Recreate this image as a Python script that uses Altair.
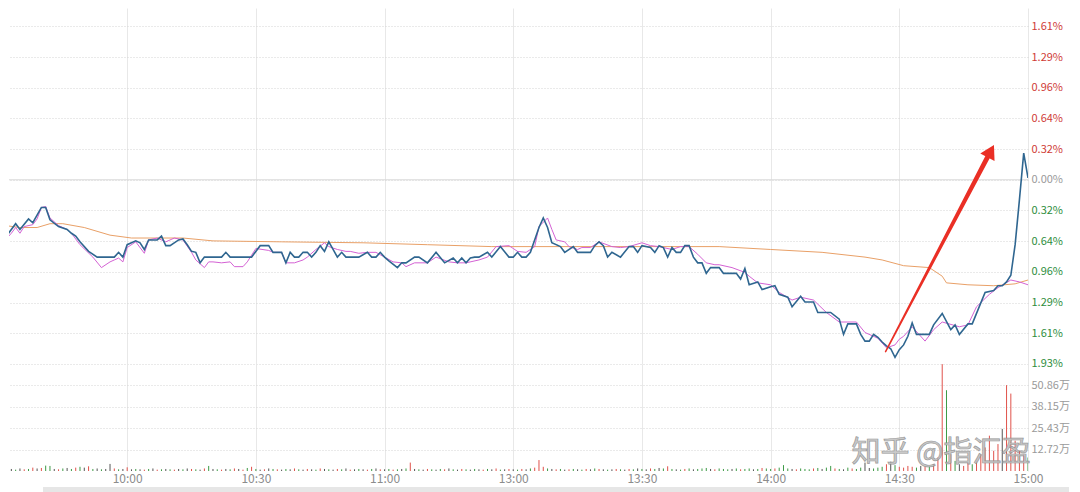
import altair as alt
import pandas as pd

FONT = "Noto Sans CJK SC"
RED = "#cf3b36"
GREEN = "#2e8d3c"
GRAY = "#9a9a9a"

# ---- price line (minutes from 09:30, % change) ----
price_t = [0, 2, 4, 5, 7, 8, 10, 11, 12, 14, 16, 17, 18, 19, 21, 23, 27, 28, 29, 30,
           32, 33, 34, 35, 37, 38, 39, 40, 42, 43, 44, 45, 46, 47, 48, 52, 53, 54, 59, 61,
           63, 64, 66, 67, 68, 69, 70, 71, 72, 73, 74, 75, 76, 77, 78, 79, 80, 81, 84, 86,
           87, 88, 89, 90, 91, 93, 94, 95, 97, 98, 100, 102, 104, 106, 107, 108, 109, 110, 111, 112,
           114, 115, 117, 119, 120, 121, 122, 123, 124, 126, 127, 128, 129, 131, 132, 134, 135, 138, 139, 140,
           141, 142, 143, 145, 147, 148, 149, 150, 152, 153, 154, 155, 156, 157, 158, 159, 160, 161, 162, 163,
           164, 165, 166, 168, 169, 172, 173, 174, 175, 177, 178, 180, 181, 182, 184, 185, 187, 188, 190, 191,
           194, 196, 197, 198, 200, 201, 202, 203, 204, 205, 206, 207, 208, 209, 210, 211, 212, 213, 214, 217,
           218, 220, 222, 223, 224, 226, 227, 229, 230, 232, 233, 234, 235, 236, 237, 238, 239, 240]
price_v = [-0.58, -0.58, -0.46, -0.52, -0.41, -0.45, -0.29, -0.29, -0.42, -0.49, -0.52, -0.56, -0.59, -0.65, -0.75, -0.81, -0.81, -0.76, -0.81, -0.68,
           -0.64, -0.66, -0.73, -0.63, -0.63, -0.59, -0.69, -0.69, -0.63, -0.62, -0.68, -0.75, -0.76, -0.87, -0.81, -0.81, -0.76, -0.81, -0.81, -0.69,
           -0.69, -0.76, -0.76, -0.87, -0.76, -0.81, -0.81, -0.76, -0.76, -0.81, -0.76, -0.69, -0.75, -0.65, -0.73, -0.81, -0.76, -0.81, -0.81, -0.76,
           -0.81, -0.81, -0.76, -0.81, -0.85, -0.92, -0.87, -0.87, -0.81, -0.81, -0.87, -0.76, -0.87, -0.82, -0.87, -0.82, -0.87, -0.82, -0.81, -0.81,
           -0.76, -0.81, -0.70, -0.81, -0.81, -0.76, -0.81, -0.81, -0.76, -0.50, -0.40, -0.50, -0.66, -0.70, -0.76, -0.70, -0.76, -0.76, -0.69, -0.65,
           -0.69, -0.81, -0.76, -0.81, -0.70, -0.70, -0.76, -0.69, -0.71, -0.76, -0.69, -0.71, -0.81, -0.71, -0.76, -0.76, -0.69, -0.69, -0.81, -0.87,
           -0.87, -0.98, -0.92, -0.92, -0.98, -0.98, -1.04, -0.93, -1.10, -1.07, -1.15, -1.12, -1.11, -1.20, -1.23, -1.33, -1.22, -1.28, -1.28, -1.39,
           -1.39, -1.46, -1.62, -1.51, -1.51, -1.62, -1.69, -1.69, -1.62, -1.65, -1.70, -1.74, -1.77, -1.86, -1.78, -1.73, -1.64, -1.50, -1.62, -1.62,
           -1.52, -1.40, -1.57, -1.52, -1.62, -1.51, -1.51, -1.29, -1.18, -1.16, -1.11, -1.11, -1.07, -1.00, -0.68, -0.21, 0.28, 0.02]

# ---- moving-average line (magenta) ----
ma_t = [0, 2, 3, 4, 5, 6, 8, 9, 10, 11, 12, 14, 16, 17, 19, 22, 24, 26, 27, 28,
        29, 30, 32, 34, 35, 37, 39, 41, 43, 45, 46, 48, 49, 50, 52, 54, 55, 57, 58, 60,
        63, 64, 66, 67, 69, 71, 72, 74, 76, 77, 79, 81, 82, 84, 86, 88, 90, 92, 94, 95,
        97, 100, 102, 105, 107, 109, 112, 114, 116, 119, 121, 123, 125, 126, 128, 129, 130, 132, 133, 135,
        136, 138, 140, 143, 145, 147, 150, 152, 154, 157, 159, 161, 163, 165, 167, 168, 171, 174, 175, 177,
        180, 182, 185, 187, 190, 193, 196, 198, 200, 202, 205, 207, 209, 210, 211, 213, 216, 218, 220, 224,
        226, 228, 231, 233, 236, 238, 240]
ma_v = [-0.68, -0.61, -0.56, -0.50, -0.56, -0.49, -0.47, -0.41, -0.29, -0.28, -0.40, -0.48, -0.52, -0.56, -0.68, -0.81, -0.92, -0.86, -0.84, -0.82,
        -0.86, -0.71, -0.65, -0.77, -0.63, -0.61, -0.65, -0.61, -0.63, -0.76, -0.84, -0.92, -0.86, -0.86, -0.87, -0.86, -0.91, -0.91, -0.86, -0.72,
        -0.74, -0.76, -0.76, -0.87, -0.87, -0.84, -0.81, -0.73, -0.66, -0.70, -0.73, -0.75, -0.75, -0.77, -0.76, -0.76, -0.81, -0.86, -0.87, -0.91,
        -0.87, -0.87, -0.81, -0.86, -0.87, -0.87, -0.84, -0.81, -0.70, -0.69, -0.75, -0.76, -0.70, -0.49, -0.40, -0.52, -0.63, -0.65, -0.70, -0.73,
        -0.71, -0.71, -0.65, -0.70, -0.71, -0.70, -0.66, -0.69, -0.70, -0.73, -0.70, -0.70, -0.78, -0.87, -0.89, -0.89, -0.92, -0.97, -1.01, -1.08,
        -1.10, -1.18, -1.26, -1.23, -1.26, -1.39, -1.49, -1.49, -1.49, -1.60, -1.66, -1.76, -1.73, -1.67, -1.64, -1.54, -1.69, -1.57, -1.49, -1.54,
        -1.52, -1.33, -1.20, -1.13, -1.05, -1.07, -1.10]

# ---- average price line (orange) ----
avg_t = [0, 5, 9, 12, 15, 20, 26, 31, 43, 50, 66, 85, 100, 115, 126, 164, 168, 180, 192, 202,
         206, 211, 217, 220, 221, 226, 232, 237, 240]
avg_v = [-0.47, -0.50, -0.50, -0.46, -0.46, -0.50, -0.58, -0.61, -0.61, -0.64, -0.65, -0.66, -0.68, -0.70, -0.70, -0.70, -0.70, -0.73, -0.76, -0.81,
         -0.84, -0.90, -0.92, -1.01, -1.08, -1.10, -1.11, -1.09, -1.05]

# ---- volume per minute (万股) and direction (r up / g down / k flat) ----
vol = [
    4.0, 1.5, 1.0, 1.2, 0.8, 1.5, 1.0, 1.2, 2.0, 1.5, 1.8, 3.2, 3.0, 1.2, 1.0, 1.5, 1.8, 1.2, 2.0, 2.5, 2.0, 2.8, 1.2, 1.5, 1.0, 1.2, 4.2, 1.5, 1.0, 1.2,
    2.2, 1.0, 1.2, 1.0, 0.8, 1.2, 1.5, 0.8, 1.0, 1.2, 1.0, 0.8, 1.2, 1.0, 1.5, 1.2, 1.0, 0.8, 1.5, 3.0, 1.2, 1.0, 0.8, 1.2, 1.0, 1.5, 1.2, 0.8, 1.8, 2.5,
    1.2, 0.8, 1.0, 1.5, 1.2, 1.0, 0.8, 1.2, 1.0, 1.5, 1.0, 0.8, 1.2, 1.0, 0.8, 1.5, 1.2, 1.0, 0.8, 1.2, 1.0, 1.5, 0.8, 1.0, 1.2, 1.0, 0.8, 1.2, 1.5, 1.0,
    1.0, 1.2, 0.8, 1.0, 1.2, 1.5, 5.0, 1.2, 1.0, 0.8, 1.2, 1.0, 0.8, 1.2, 1.0, 1.5, 1.0, 0.8, 1.2, 1.0, 0.8, 1.2, 1.0, 0.8, 1.2, 1.0, 1.5, 0.8, 1.0, 1.2,
    1.0, 0.8, 1.2, 1.0, 1.5, 2.0, 6.5, 2.5, 1.5, 1.2, 1.0, 1.2, 0.8, 1.0, 1.2, 1.0, 0.8, 1.2, 1.0, 1.5, 1.2, 1.0, 0.8, 1.0, 1.2, 1.0, 0.8, 1.2, 1.0, 1.5,
    1.2, 1.0, 1.5, 1.2, 1.8, 1.5, 2.8, 1.2, 1.0, 0.8, 1.2, 1.5, 1.0, 1.2, 1.5, 1.8, 1.2, 1.0, 1.5, 1.2, 1.0, 1.2, 1.5, 1.0, 1.2, 1.5, 1.0, 1.2, 1.8, 1.5,
    1.2, 1.5, 2.0, 3.5, 1.5, 1.2, 1.0, 1.5, 1.2, 1.0, 1.5, 1.8, 1.2, 2.0, 3.0, 1.5, 1.2, 1.0, 2.0, 1.5, 1.2, 2.0, 5.0, 1.8, 1.5, 2.0, 2.5, 4.0, 5.5, 3.5,
    2.5, 2.0, 3.0, 2.5, 2.0, 3.0, 2.5, 3.0, 4.0, 8.0, 63.5, 48.0, 10.0, 6.0, 4.0, 3.0, 5.0, 4.0, 6.0, 10.0, 14.0, 21.0, 12.0, 16.0, 25.0, 51.0, 46.0, 18.0, 12.0, 10.0,
    8.0,
]
vol_dir = ("krgkgkrgrkrggkrgkgrgkrgkgkkrgk"
           "rkgkrgkrgkgrkgkrgkrgkgrkgrkrgr"
           "gkrkgrkgkrgkrkgrkgkrgkrkgkrgkr"
           "kgrgkgrkgkrgkgrkgkrgkgkrgkrgkr"
           "kgrkgrrrgkrgkrgkgrkgrkgkrgkrgk"
           "gkrgkgrgkgrgkgggkrgggkgrggkgrg"
           "grgggkrgggrgkggrgkgrggkkgggrkg"
           "rrrrgkrgrrrgrgkrrgrrrrrrkrrrrrg")

# ---- axes ----
time_ticks = [30, 60, 90, 120, 150, 180, 210, 240]
time_labels = ["09:30", "10:00", "10:30", "11:00", "13:00", "13:30", "14:00", "14:30", "15:00"]
pct_ticks = [-1.9296, -1.608, -1.2864, -0.9648, -0.6432, -0.3216, 0.0, 0.3216, 0.6432, 0.9648, 1.2864, 1.608]
vol_ticks = [12.7152, 25.4304, 38.1456, 50.8608]
zero_level = [0.0]

# ---- annotations ----
arrow_t = [206.8, 231.3]
arrow_v = [-1.80, 0.30]
arrow_w = [1.5, 5.0]
watermark = ["知乎 @指汇盈"]

W = 1019
x_scale = alt.Scale(domain=[2.45, 240], nice=False, zero=False)
label_expr_time = "[" + ",".join("'%s'" % s for s in time_labels) + "][round(datum.value/30)]"

x_top = alt.X("t:Q", scale=x_scale,
              axis=alt.Axis(values=time_ticks, labels=False, ticks=False, domain=False,
                            grid=True, gridColor="#e8e8e8", gridDash=[], title=None))
y_top = alt.Y("v:Q", scale=alt.Scale(domain=[-1.93, 1.80], nice=False, zero=False),
              axis=alt.Axis(orient="right", values=pct_ticks,
                            labelExpr="format(abs(datum.value), '.2f') + '%'",
                            labelColor={"condition": [{"test": "datum.value > 0.01", "value": RED},
                                                      {"test": "datum.value < -0.01", "value": GREEN}],
                                        "value": GRAY},
                            labelFont=FONT, labelFontSize=11, labelPadding=3, labelFlush=False,
                            ticks=False, domain=False, grid=True, gridColor="#d4d4d4",
                            gridDash=[1, 2], title=None))

price_df = pd.DataFrame({"t": price_t, "v": price_v})
ma_df = pd.DataFrame({"t": ma_t, "v": ma_v})
avg_df = pd.DataFrame({"t": avg_t, "v": avg_v})
arrow_df = pd.DataFrame({"t": arrow_t, "v": arrow_v, "w": arrow_w})
zero_df = pd.DataFrame({"v": zero_level})

zero_rule = alt.Chart(zero_df).mark_rule(color="#d8d8d8", strokeWidth=1).encode(y=y_top)
avg_line = alt.Chart(avg_df).mark_line(color="#e9a067", strokeWidth=1, clip=True).encode(x=x_top, y=y_top)
ma_line = alt.Chart(ma_df).mark_line(color="#d462d4", strokeWidth=1, clip=True).encode(x=x_top, y=y_top)
price_line = alt.Chart(price_df).mark_line(color="#2f6690", strokeWidth=1.6, clip=True).encode(x=x_top, y=y_top)
arrow_body = alt.Chart(arrow_df).mark_trail(color="#ea2f25").encode(
    x=x_top, y=y_top, size=alt.Size("w:Q", scale=None, legend=None))
arrow_head = alt.Chart(arrow_df.iloc[[1]]).mark_point(
    shape="triangle-up", filled=True, angle=28, size=260, color="#ea2f25", opacity=1).encode(x=x_top, y=y_top)

top = alt.layer(zero_rule, avg_line, ma_line, price_line, arrow_body, arrow_head).properties(width=W, height=356)

# ---- volume panel ----
vol_df = pd.DataFrame({"t": list(range(len(vol))), "vol": vol, "d": list(vol_dir)})
x_bot = alt.X("t:Q", scale=x_scale,
              axis=alt.Axis(values=time_ticks, labelExpr=label_expr_time, labelFont=FONT,
                            labelFontSize=12, labelColor="#8c8c8c", labelPadding=2, labelFlush=False,
                            ticks=False, domain=False, grid=True, gridColor="#e8e8e8", gridDash=[],
                            title=None))
y_vol = alt.Y("vol:Q", scale=alt.Scale(domain=[0, 63.576], nice=False, zero=True),
              axis=alt.Axis(orient="right", values=vol_ticks,
                            labelExpr="format(datum.value, '.2f') + '万'",
                            labelColor=GRAY, labelFont=FONT, labelFontSize=11, labelPadding=3,
                            labelFlush=False, ticks=False, domain=False, grid=True,
                            gridColor="#d4d4d4", gridDash=[1, 2], title=None))
bars = alt.Chart(vol_df).mark_rule(strokeWidth=1, clip=True).encode(
    x=x_bot, y=y_vol, y2=alt.datum(0),
    color=alt.Color("d:N", scale=alt.Scale(domain=["r", "g", "k"], range=["#e0524b", "#3d9a45", "#555555"]), legend=None))
wm = alt.Chart(pd.DataFrame({"w": watermark})).mark_text(
    font=FONT, fontSize=29, color="#c4c4c4", stroke="#8f8f8f", strokeWidth=0.7, opacity=0.9,
    align="center", baseline="middle").encode(text="w:N", x=alt.value(932), y=alt.value(89))
scroll = alt.Chart(pd.DataFrame({"a": [0]})).mark_rect(color="#e6e6e6").encode(
    x=alt.value(34), x2=alt.value(1060), y=alt.value(123), y2=alt.value(128))

bottom = alt.layer(bars, wm, scroll).properties(width=W, height=107)

chart = alt.vconcat(top, bottom, spacing=0, bounds="flush").resolve_scale(
    x="independent", y="independent").properties(
    padding=0, background="white").configure_view(strokeWidth=0)

chart.save("out.html", embed_options={"renderer": "svg", "actions": False})
